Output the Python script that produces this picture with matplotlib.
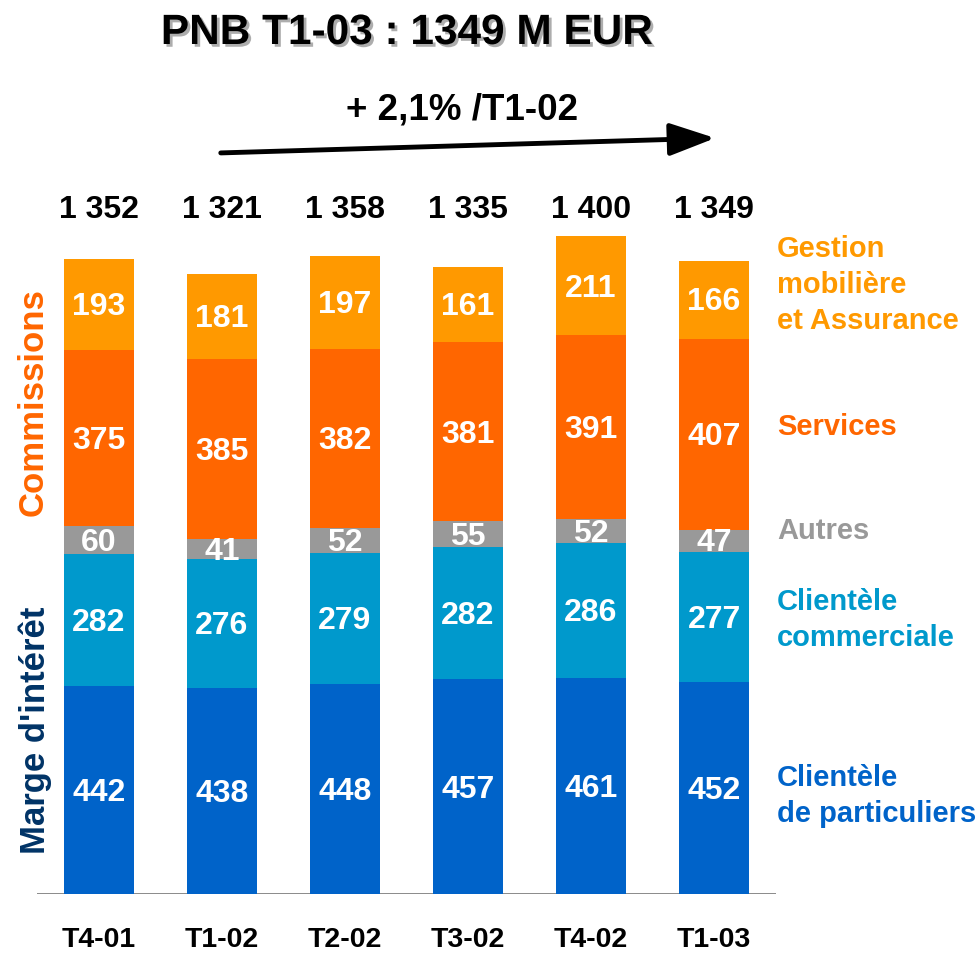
import matplotlib
matplotlib.use("Agg")
import matplotlib.pyplot as plt
import matplotlib.patheffects as pe

plt.rcParams['font.family'] = ['Liberation Sans', 'DejaVu Sans']
plt.rcParams['font.weight'] = 'bold'

# data
quarters = ["T4-01", "T1-02", "T2-02", "T3-02", "T4-02", "T1-03"]
particuliers = [442, 438, 448, 457, 461, 452]
commerciale = [282, 276, 279, 282, 286, 277]
autres = [60, 41, 52, 55, 52, 47]
services = [375, 385, 382, 381, 391, 407]
gestion = [193, 181, 197, 161, 211, 166]
totals = ["1 352", "1 321", "1 358", "1 335", "1 400", "1 349"]

series = [particuliers, commerciale, autres, services, gestion]
colors = ["#0063C9", "#0099CC", "#999999", "#FF6600", "#FF9900"]

W, H = 978, 955
fig = plt.figure(figsize=(W / 100, H / 100), dpi=100)


def px(x, y):
    return x / W, 1 - y / H


# axes: baseline at y=894px, spans x 37..776px
ax = fig.add_axes([37 / W, 1 - 894 / H, 739 / W, 894 / H])
ax.set_xlim(-0.504, 5.504)
ax.set_ylim(0, 1904)
ax.axis('off')

x = range(len(quarters))
bottom = [0] * len(quarters)
for vals, col in zip(series, colors):
    ax.bar(x, vals, width=0.57, bottom=bottom, color=col, zorder=2)
    for i, v in enumerate(vals):
        ax.text(i, bottom[i] + v / 2 - 6, str(v), ha='center', va='center',
                color='white', fontsize=23, fontweight='bold', zorder=3)
    bottom = [b + v for b, v in zip(bottom, vals)]

ax.axhline(0, color='#808080', lw=2, zorder=1)

for i, t in enumerate(totals):
    ax.text(i, 1457, t, ha='center', va='center', fontsize=23, color='black')
    ax.text(i, -99, quarters[i], ha='center', va='center', fontsize=20.5, color='black')

# title with shadow
fig.text(*px(407, 33), "PNB T1-03 : 1349 M EUR", ha='center', va='center',
         fontsize=30.5, color='black',
         path_effects=[pe.withSimplePatchShadow(offset=(2, -2), shadow_rgbFace='#999999', alpha=0.8)])

fig.text(*px(462, 110), "+ 2,1% /T1-02", ha='center', va='center', fontsize=26.5, color='black')
fig.add_artist(matplotlib.patches.FancyArrowPatch(
    px(218, 153), px(718, 138), transform=fig.transFigure,
    arrowstyle='-|>,head_length=1.4,head_width=0.5', mutation_scale=20,
    lw=3.5, color='black', capstyle='round'))

# side labels
fig.text(*px(33, 402), "Commissions", rotation=90, ha='center', va='center',
         fontsize=25, color='#FF6600')
fig.text(*px(35, 730), "Marge d'intérêt", rotation=90, ha='center', va='center',
         fontsize=25, color='#003366')

right = [
    (285, "Gestion\nmobilière\net Assurance", "#FF9900"),
    (427, "Services", "#FF6600"),
    (531, "Autres", "#999999"),
    (620, "Clientèle\ncommerciale", "#0099CC"),
    (796, "Clientèle\nde particuliers", "#0063C9"),
]
for y, txt, col in right:
    fig.text(*px(777, y), txt, ha='left', va='center', fontsize=21,
             color=col, linespacing=1.35)

fig.savefig("out.png", dpi=100)
